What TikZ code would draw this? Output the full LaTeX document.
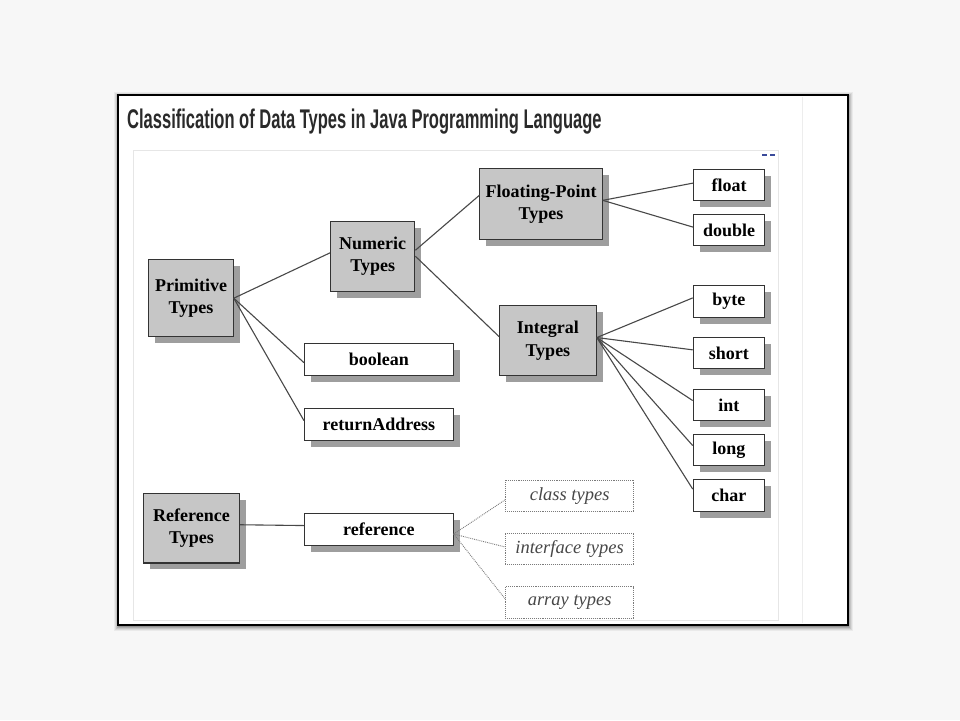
\documentclass[tikz,border=0pt]{standalone}
\usepackage{fontspec}
\setmainfont{Liberation Serif}
\newfontfamily\titlefont{Liberation Sans}
\usetikzlibrary{shadows}
\definecolor{bggray}{HTML}{F7F7F7}
\definecolor{boxgray}{HTML}{C6C6C6}
\definecolor{shadowgray}{HTML}{9E9E9E}
\definecolor{edgegray}{HTML}{333333}
\definecolor{linegray}{HTML}{484848}
\definecolor{dotgray}{HTML}{7A7A7A}
\definecolor{titlegray}{HTML}{2A2A2A}
\definecolor{areagray}{HTML}{E6E6E6}
\definecolor{dashblue}{HTML}{3A4A9A}
\tikzset{
  boxbase/.style={draw=edgegray, line width=1.1pt, inner sep=0pt, anchor=north west,
    align=center, text=black, font=\fontsize{18}{22.5}\selectfont\bfseries,
    drop shadow={shadow xshift=6.5pt, shadow yshift=-6.5pt, fill=shadowgray, opacity=1}},
  graybox/.style={boxbase, fill=boxgray},
  whitebox/.style={boxbase, fill=white},
  dotbox/.style={draw=dotgray, densely dotted, line width=0.9pt, fill=white, inner sep=0pt,
    anchor=north west, text=black!72, font=\fontsize{18.5}{22}\selectfont\itshape},
  conn/.style={draw=linegray, line width=1.1pt},
  dotconn/.style={draw=dotgray, densely dotted, line width=0.9pt}
}
\begin{document}
\begin{tikzpicture}[x=1pt,y=-1pt]
\useasboundingbox (0,0) rectangle (960,720);
\fill[bggray] (0,0) rectangle (960,720);
% soft frame shadow
\foreach \s/\o in {5/0.05,4/0.07,3/0.09,2/0.12,1/0.15}{
  \fill[black,opacity=\o] (118-\s+1,95-\s+2) rectangle (848+\s,625+\s+1);
}
\draw[black, line width=2.2pt, fill=white] (118,95) rectangle (848,625);
% image area
\draw[areagray, line width=0.6pt] (133,150) rectangle (778,620);
\draw[areagray!70, line width=0.6pt] (802,97) -- (802,623);
\draw[dashblue, line width=2pt] (762,155) -- (767,155);
\draw[dashblue, line width=2pt] (770,155) -- (775,155);
% title
\node[anchor=base west, inner sep=0pt, text=titlegray] (title) at (127,128.3)
  {\titlefont\bfseries\fontsize{27}{30}\selectfont\scalebox{0.612}[1]{Classification of Data Types in Java Programming Language}};
% nodes
\node[graybox, minimum width=84.4pt, minimum height=76.7pt] (prim) at (148.3,259.3) {Primitive\\Types};
\node[graybox, minimum width=84.3pt, minimum height=70pt] (numeric) at (330,220.7) {Numeric\\Types};
\node[graybox, minimum width=122.4pt, minimum height=71pt] (fp) at (479.3,168.3) {Floating-Point\\Types};
\node[graybox, minimum width=96.7pt, minimum height=70pt] (integral) at (499,305) {Integral\\Types};
\node[graybox, minimum width=96.4pt, minimum height=69.6pt] (reftypes) at (142.7,492.8) {Reference\\Types};
\node[whitebox, minimum width=70.7pt, minimum height=31pt] (float) at (693.3,169) {float};
\node[whitebox, minimum width=70.7pt, minimum height=30.7pt] (double) at (693.3,214.3) {double};
\node[whitebox, minimum width=71.3pt, minimum height=31.7pt] (byte) at (692.7,285) {byte};
\node[whitebox, minimum width=71.3pt, minimum height=31pt] (short) at (692.7,337.3) {short};
\node[whitebox, minimum width=71.3pt, minimum height=31pt] (int) at (692.7,389) {int};
\node[whitebox, minimum width=71.3pt, minimum height=31pt] (long) at (692.7,434) {long};
\node[whitebox, minimum width=71.3pt, minimum height=31.4pt] (char) at (692.7,479.3) {char};
\node[whitebox, minimum width=148.7pt, minimum height=31.7pt] (boolean) at (304,343.3) {boolean};
\node[whitebox, minimum width=148.7pt, minimum height=31.7pt] (retaddr) at (304,408.3) {returnAddress};
\node[whitebox, minimum width=148.6pt, minimum height=32pt] (reference) at (304,513) {reference};
\node[dotbox, minimum width=128.4pt, minimum height=31.7pt] (class) at (505,479.6) {class types};
\node[dotbox, minimum width=128.4pt, minimum height=31pt] (interface) at (505,533) {interface types};
\node[dotbox, minimum width=128.4pt, minimum height=31.6pt] (array) at (505,586.4) {array types};
% connectors
\draw[conn] (prim.east) -- ([yshift=3.4pt]numeric.west);
\draw[conn] (prim.east) -- ([yshift=-3pt]boolean.west);
\draw[conn] (prim.east) -- ([yshift=4pt]retaddr.west);
\draw[conn] ([yshift=6pt]numeric.east) -- ([yshift=9pt]fp.west);
\draw[conn] (numeric.east) -- ([yshift=4pt]integral.west);
\draw[conn] ([yshift=4pt]fp.east) -- ([yshift=2pt]float.west);
\draw[conn] ([yshift=4pt]fp.east) -- ([yshift=3pt]double.west);
\draw[conn] ([yshift=3pt]integral.east) -- ([yshift=3.5pt]byte.west);
\draw[conn] ([yshift=3pt]integral.east) -- ([yshift=3.5pt]short.west);
\draw[conn] ([yshift=3pt]integral.east) -- ([yshift=4.5pt]int.west);
\draw[conn] ([yshift=3pt]integral.east) -- ([yshift=4.5pt]long.west);
\draw[conn] ([yshift=3pt]integral.east) -- ([yshift=6.5pt]char.west);
\draw[conn] ([yshift=3.4pt]reftypes.east) -- ([yshift=4pt]reference.west);
\draw[dotconn] ([yshift=-4.5pt]reference.east) -- ([yshift=-4pt]class.west);
\draw[dotconn] ([yshift=-4.5pt]reference.east) -- ([yshift=2pt]interface.west);
\draw[dotconn] ([yshift=-4.5pt]reference.east) -- ([yshift=4pt]array.west);
\end{tikzpicture}
\end{document}
